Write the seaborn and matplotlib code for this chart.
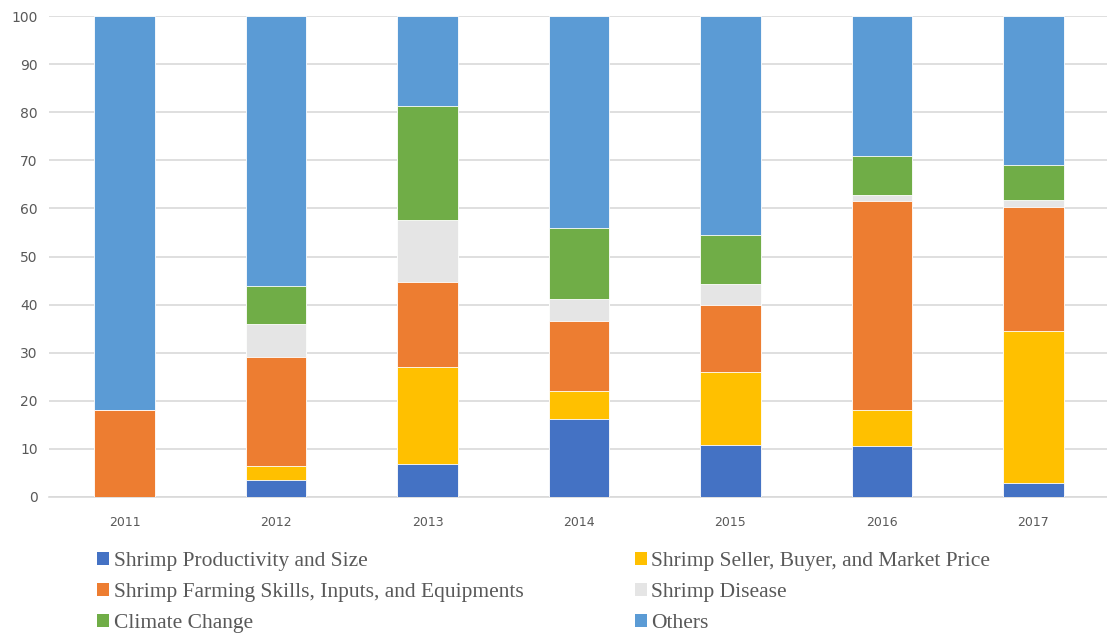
import matplotlib
matplotlib.use("Agg")
import matplotlib.pyplot as plt
from matplotlib.patches import Patch
import numpy as np
import pandas as pd
import seaborn as sns

years = ["2011", "2012", "2013", "2014", "2015", "2016", "2017"]

productivity = [0.0, 3.6, 6.9, 16.3, 10.9, 10.5, 3.0]
seller = [0.0, 2.9, 20.1, 5.8, 15.1, 7.6, 31.6]
farming = [18.0, 22.6, 17.6, 14.5, 14.0, 43.4, 25.6]
disease = [0.0, 6.9, 12.9, 4.6, 4.3, 1.3, 1.5]
climate = [0.0, 7.9, 23.9, 14.7, 10.1, 8.0, 7.3]
others = [82.0, 56.1, 18.6, 44.1, 45.6, 29.2, 31.0]

series_names = [
    "Shrimp Productivity and Size",
    "Shrimp Seller, Buyer, and Market Price",
    "Shrimp Farming Skills, Inputs, and Equipments",
    "Shrimp Disease",
    "Climate Change",
    "Others",
]
series_values = [productivity, seller, farming, disease, climate, others]
colors = ["#4472C4", "#FFC000", "#ED7D31", "#E5E5E5", "#70AD47", "#5B9BD5"]

sns.set_theme(style="white")

fig = plt.figure(figsize=(11.07, 6.37), dpi=100)
ax = fig.add_axes([0.044, 0.2198, 0.958, 0.755])

# Stacked bars: draw cumulative totals from the top layer down
cum = np.cumsum(np.array(series_values), axis=0)
for i in range(len(series_names) - 1, -1, -1):
    df = pd.DataFrame({"year": years, "value": cum[i]})
    sns.barplot(data=df, x="year", y="value", color=colors[i], width=0.40,
                edgecolor="white", linewidth=0.6, saturation=1, ax=ax, zorder=3)

ax.set_ylim(0, 100)
ax.set_xlim(-0.5, 6.5)
ax.set_yticks(range(0, 101, 10))
ax.yaxis.grid(True, color="#D9D9D9", linewidth=1.2, zorder=0)
ax.set_axisbelow(True)
for side in ["top", "right", "left"]:
    ax.spines[side].set_visible(False)
ax.spines["bottom"].set_color("#D9D9D9")
ax.spines["bottom"].set_linewidth(1.2)
ax.set_xlabel("")
ax.set_ylabel("")
ax.tick_params(axis="both", length=0)
ax.tick_params(axis="y", labelsize=10, labelcolor="#595959", pad=8)
ax.tick_params(axis="x", labelsize=9, labelcolor="#595959", pad=14)

# Legend in row-major order with two columns
order = [0, 2, 4, 1, 3, 5]
handles = [Patch(facecolor=colors[k], edgecolor="none") for k in order]
labels = [series_names[k] for k in order]
fig.legend(handles, labels, ncol=2, loc="upper left",
           bbox_to_anchor=(0.088, 0.134), frameon=False,
           prop={"family": "Liberation Serif", "size": 15.5},
           labelcolor="#595959",
           handlelength=0.56, handleheight=0.56, handletextpad=0.19,
           columnspacing=5.2, labelspacing=0.55, borderaxespad=0, borderpad=0)

fig.savefig("out.png", dpi=100)
